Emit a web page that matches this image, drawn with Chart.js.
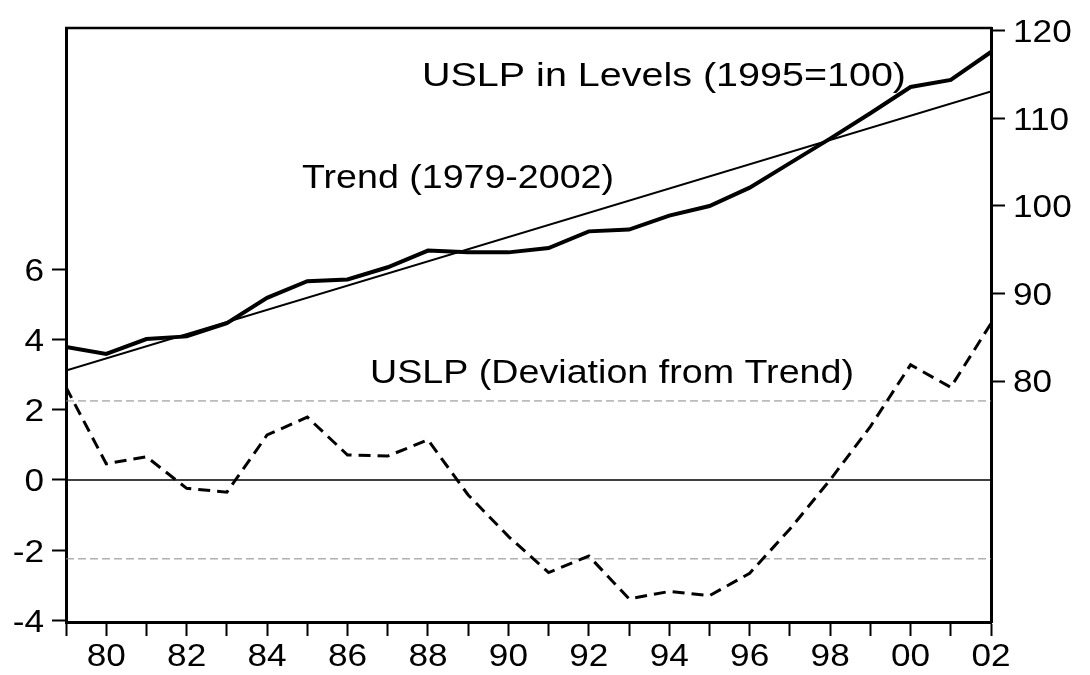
<!DOCTYPE html>
<html>
<head>
<meta charset="utf-8">
<title>USLP levels, trend and deviation</title>
<script src="https://cdn.jsdelivr.net/npm/chart.js@4"></script>
<style>
  html, body { margin: 0; padding: 0; background: #fff; }
  canvas { display: block; }
</style>
</head>
<body>
<canvas id="chart" width="1090" height="675"></canvas>
<script>
// Values
const years = [1979, 1980, 1981, 1982, 1983, 1984, 1985, 1986, 1987, 1988, 1989, 1990,
               1991, 1992, 1993, 1994, 1995, 1996, 1997, 1998, 1999, 2000, 2001, 2002];
const levels = [83.9, 83.1, 84.8, 85.1, 86.6, 89.5, 91.4, 91.6, 93.0, 94.9, 94.7, 94.7,
                95.2, 97.1, 97.3, 98.9, 100.0, 102.1, 104.9, 107.7, 110.6, 113.6, 114.4, 117.6];
const deviation = [2.64, 0.46, 0.66, -0.24, -0.35, 1.28, 1.79, 0.71, 0.68, 1.14, -0.43, -1.61,
                   -2.64, -2.17, -3.39, -3.18, -3.30, -2.66, -1.40, 0.0, 1.52, 3.28, 2.64, 4.46];
const trendYears = [1979, 2002];
const trendValues = [81.2, 113.1];
const refYears = [1979, 2002];
const zeroLine = [0, 0];
const upperBand = [2.25, 2.25];
const lowerBand = [-2.25, -2.25];
const leftTicks = [-4, -2, 0, 2, 4, 6];
const rightTicks = [80, 90, 100, 110, 120];
const labelYears = [1980, 1982, 1984, 1986, 1988, 1990, 1992, 1994, 1996, 1998, 2000, 2002];

const FONT = '"Liberation Sans", Arial, sans-serif';
const pts = (xs, ys) => xs.map((x, i) => ({ x: x, y: ys[i] }));

// stretched text, like the wide glyphs of the original
function wideText(ctx, str, x, y, size, stretch, align) {
  ctx.save();
  ctx.font = size + 'px ' + FONT;
  ctx.fillStyle = '#000';
  ctx.textAlign = align;
  ctx.textBaseline = 'alphabetic';
  ctx.translate(x, y);
  ctx.scale(stretch, 1);
  ctx.fillText(str, 0, 0);
  ctx.restore();
}

// fit text to a given width
function fitText(ctx, str, x, y, size, width) {
  ctx.save();
  ctx.font = size + 'px ' + FONT;
  const w = ctx.measureText(str).width;
  ctx.restore();
  wideText(ctx, str, x, y, size, width / w, 'left');
}

const textPlugin = {
  id: 'texts',
  afterDraw(chart) {
    const ctx = chart.ctx;
    const area = chart.chartArea;
    const { x, y, y1 } = chart.scales;

    // top frame line
    ctx.save();
    ctx.strokeStyle = '#000';
    ctx.lineWidth = 2.5;
    ctx.beginPath();
    ctx.moveTo(area.left - 1, area.top);
    ctx.lineTo(area.right + 1, area.top);
    ctx.stroke();
    ctx.restore();

    const size = 32, stretch = 1.1;
    const mid = size * 0.358;
    leftTicks.forEach(v => {
      wideText(ctx, String(v), 44, y.getPixelForValue(v) + mid, size, stretch, 'right');
    });
    rightTicks.forEach(v => {
      wideText(ctx, String(v), 1013, y1.getPixelForValue(v) + mid, size, stretch, 'left');
    });
    labelYears.forEach(v => {
      wideText(ctx, String(v).slice(2), x.getPixelForValue(v), 666, size, stretch, 'center');
    });

    fitText(ctx, 'USLP in Levels (1995=100)', 422, 86, 33, 484);
    fitText(ctx, 'Trend (1979-2002)', 302, 188, 33, 312);
    fitText(ctx, 'USLP (Deviation from Trend)', 370, 383, 33, 484);
  }
};

const axisGrid = { display: true, drawOnChartArea: false, drawTicks: true, tickLength: 14, tickWidth: 2, color: '#000' };
const axisBorder = { display: true, color: '#000', width: 3 };

new Chart(document.getElementById('chart'), {
  type: 'line',
  data: {
    datasets: [
      { label: 'USLP in Levels (1995=100)', data: pts(years, levels), yAxisID: 'y1',
        borderColor: '#000', borderWidth: 4 },
      { label: 'Trend (1979-2002)', data: pts(trendYears, trendValues), yAxisID: 'y1',
        borderColor: '#000', borderWidth: 2 },
      { label: 'USLP (Deviation from Trend)', data: pts(years, deviation), yAxisID: 'y',
        borderColor: '#000', borderWidth: 3, borderDash: [12, 7] },
      { label: 'zero', data: pts(refYears, zeroLine), yAxisID: 'y',
        borderColor: '#000', borderWidth: 1.5 },
      { label: 'upper', data: pts(refYears, upperBand), yAxisID: 'y',
        borderColor: '#888', borderWidth: 1, borderDash: [8, 4] },
      { label: 'lower', data: pts(refYears, lowerBand), yAxisID: 'y',
        borderColor: '#888', borderWidth: 1, borderDash: [8, 4] }
    ]
  },
  options: {
    responsive: false,
    animation: false,
    layout: { padding: { top: 28, left: 0, right: 0, bottom: 0 } },
    elements: { point: { radius: 0 }, line: { tension: 0, fill: false } },
    plugins: { legend: { display: false }, tooltip: { enabled: false } },
    scales: {
      x: {
        type: 'linear', position: 'bottom', min: 1979, max: 2002,
        afterBuildTicks: s => { s.ticks = years.map(v => ({ value: v })); },
        afterFit: s => { s.height = 53; },
        ticks: { display: false },
        grid: axisGrid, border: axisBorder
      },
      y: {
        type: 'linear', position: 'left', min: -4.05, max: 12.88,
        afterBuildTicks: s => { s.ticks = leftTicks.map(v => ({ value: v })); },
        afterFit: s => { s.width = 66; },
        ticks: { display: false },
        grid: axisGrid, border: axisBorder
      },
      y1: {
        type: 'linear', position: 'right', min: 52.46, max: 120.34,
        afterBuildTicks: s => { s.ticks = rightTicks.map(v => ({ value: v })); },
        afterFit: s => { s.width = 99; },
        ticks: { display: false },
        grid: axisGrid, border: axisBorder
      }
    }
  },
  plugins: [textPlugin]
});
</script>
</body>
</html>
